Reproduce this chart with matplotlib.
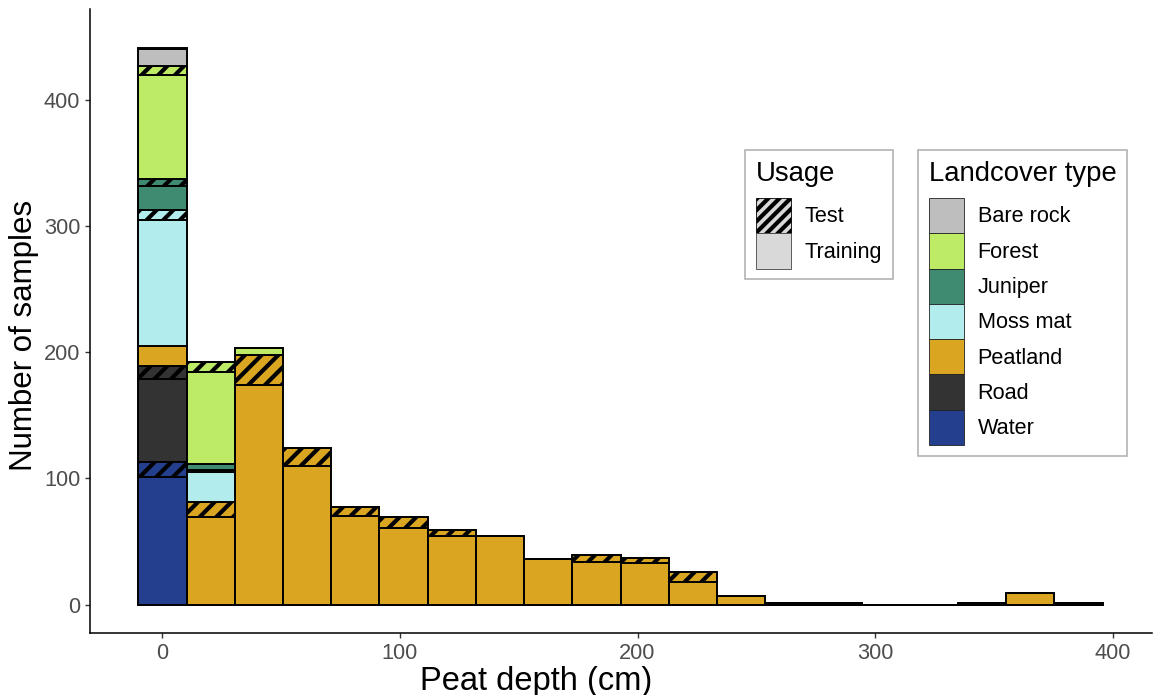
import matplotlib
matplotlib.use('Agg')
import matplotlib.pyplot as plt
from matplotlib.patches import Patch
import numpy as np

plt.rcParams['font.family'] = ['Liberation Sans', 'DejaVu Sans']
plt.rcParams['hatch.linewidth'] = 3.0

# ---------------- data ----------------
n_bins = 20
bin_width = 20.3
first_edge = -10.15

landcover_types = ['Bare rock', 'Forest', 'Juniper', 'Moss mat', 'Peatland', 'Road', 'Water']
landcover_colors = ['#BEBEBE', '#BDEB66', '#3F8B72', '#B2ECEC', '#DAA520', '#333333', '#253F8F']
usage_labels = ['Test', 'Training']

water_train = [101] + [0] * 19
water_test = [12] + [0] * 19
road_train = [66] + [0] * 19
road_test = [10] + [0] * 19
peat_train = [16, 69, 174, 110, 70, 61, 54, 54, 36, 34, 33, 18, 7, 1, 1, 0, 0, 1, 9, 1]
peat_test = [0, 12, 24, 14, 7, 8, 5, 0, 0, 5, 4, 8, 0, 0, 0, 0, 0, 0, 0, 0]
moss_train = [100, 24] + [0] * 18
moss_test = [8, 2] + [0] * 18
juniper_train = [19, 4] + [0] * 18
juniper_test = [5, 0] + [0] * 18
forest_train = [83, 73, 5] + [0] * 17
forest_test = [7, 8, 0] + [0] * 17
bare_train = [13] + [0] * 19
bare_test = [1] + [0] * 19

x_ticks = [0, 100, 200, 300, 400]
y_ticks = [0, 100, 200, 300, 400]

# ---------------- figure ----------------
W, H = 1154, 695
fig = plt.figure(figsize=(W / 100, H / 100), dpi=100)
ax = fig.add_axes([90 / W, 1 - 633.3 / H, (1152 - 90) / W, (633.3 - 9) / H])

color_of = dict(zip(landcover_types, landcover_colors))
stack = [
    ('Water', water_train, water_test),
    ('Road', road_train, road_test),
    ('Peatland', peat_train, peat_test),
    ('Moss mat', moss_train, moss_test),
    ('Juniper', juniper_train, juniper_test),
    ('Forest', forest_train, forest_test),
    ('Bare rock', bare_train, bare_test),
]

lefts = first_edge + bin_width * np.arange(n_bins)
bottom = np.zeros(n_bins)
for name, train, test in stack:
    for vals, hatch in ((train, None), (test, '//')):
        vals = np.asarray(vals, dtype=float)
        ax.bar(lefts, vals, width=bin_width, bottom=bottom, align='edge',
               color=color_of[name], edgecolor='black', linewidth=1.4,
               hatch=hatch, zorder=2)
        bottom = bottom + vals

ax.set_xlim(-30.5, 416.6)
ax.set_ylim(-22.8, 472)
ax.set_xticks(x_ticks)
ax.set_yticks(y_ticks)

for s in ['top', 'right']:
    ax.spines[s].set_visible(False)
for s in ['left', 'bottom']:
    ax.spines[s].set_linewidth(1.1)
    ax.spines[s].set_color('black')
ax.tick_params(axis='both', length=3.6, width=1.0, color='#333333',
               labelsize=15.7, labelcolor='#4D4D4D', pad=3.5)

ax.set_xlabel('Peat depth (cm)', fontsize=23.5, color='black')
ax.set_ylabel('Number of samples', fontsize=22.5, color='black')
ax.xaxis.label.set_verticalalignment('baseline')
ax.xaxis.set_label_coords((536 - 90) / 1062, (633.3 - 690) / 624.3)
ax.yaxis.label.set_verticalalignment('center')
ax.yaxis.set_label_coords((24 - 90) / 1062, (633.3 - 335) / 624.3)

# ---------------- legends ----------------
common = dict(loc='upper left', bbox_transform=fig.transFigure, borderaxespad=0,
              frameon=True, fancybox=False, edgecolor='#B3B3B3', framealpha=1,
              fontsize=15.6, title_fontsize=19.8, handlelength=1.63,
              handleheight=2.13, handletextpad=0.62, labelspacing=0,
              borderpad=0.5, alignment='left')

usage_handles = [Patch(facecolor='#D9D9D9', edgecolor='black', hatch='///', linewidth=0.6),
                 Patch(facecolor='#D9D9D9', edgecolor='#444444', linewidth=0.6)]
leg1 = ax.legend(usage_handles, usage_labels, title='Usage',
                 bbox_to_anchor=(745 / W, 1 - 150 / H), **common)
leg1.get_frame().set_linewidth(1.2)
leg1._legend_box.sep = 8
ax.add_artist(leg1)

lc_handles = [Patch(facecolor=c, edgecolor='#222222', linewidth=0.6) for c in landcover_colors]
leg2 = ax.legend(lc_handles, landcover_types, title='Landcover type',
                 bbox_to_anchor=(918 / W, 1 - 150 / H), **common)
leg2.get_frame().set_linewidth(1.2)
leg2._legend_box.sep = 8

fig.savefig('out.png', dpi=100)
